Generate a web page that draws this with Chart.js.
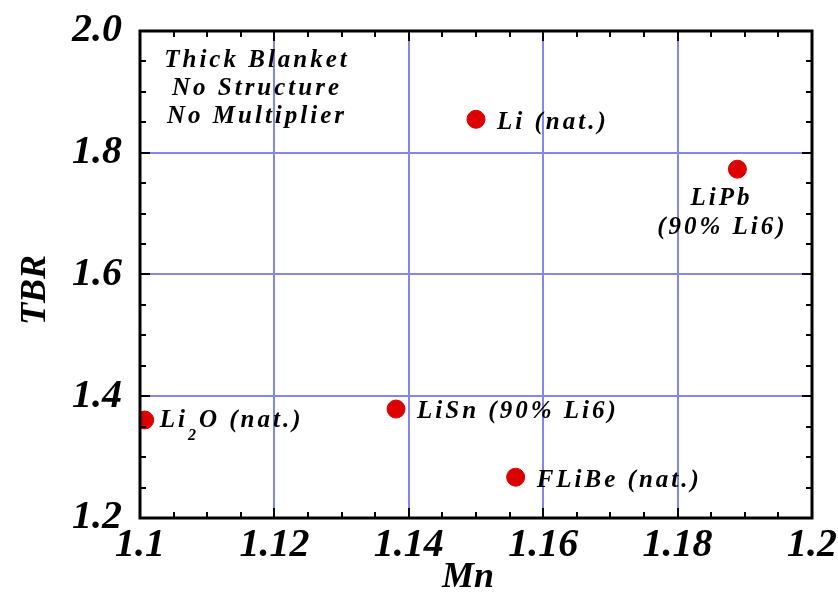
<!DOCTYPE html>
<html>
<head>
<meta charset="utf-8">
<script src="https://cdn.jsdelivr.net/npm/chart.js@4"></script>
<style>
  html, body { margin: 0; padding: 0; background: #fff; }
  #wrap { width: 838px; height: 598px; }
</style>
</head>
<body>
<div id="wrap"><canvas id="chart" width="838" height="598"></canvas></div>
<script>
// data
const materials = ["Li2O (nat.)", "LiSn (90% Li6)", "FLiBe (nat.)", "Li (nat.)", "LiPb (90% Li6)"];
const mnValues = [1.1007, 1.1381, 1.1559, 1.1500, 1.1889];
const tbrValues = [1.361, 1.379, 1.267, 1.855, 1.773];
const xTickLabels = ["1.1", "1.12", "1.14", "1.16", "1.18", "1.2"];
const yTickLabels = ["1.2", "1.4", "1.6", "1.8", "2.0"];
const noteLines = ["Thick Blanket", "No Structure", "No Multiplier"];

const serif = "'Liberation Serif', 'DejaVu Serif', serif";
const gridBlue = "#8585ee";

var points = mnValues.map(function (x, i) {
  return { x: x, y: tbrValues[i] };
});

// frame, inward ticks, axis titles, note text and point labels
const decorations = {
  id: "decorations",
  afterDatasetsDraw: function (chart) {
    var ctx = chart.ctx;
    var a = chart.chartArea;
    var xs = chart.scales.x;
    var ys = chart.scales.y;
    ctx.save();
    ctx.strokeStyle = "#000";
    ctx.lineWidth = 2;
    ctx.beginPath();
    for (var v = 1.1; v <= 1.2001; v += 0.005) {
      var px = Math.round(xs.getPixelForValue(v));
      var major = Math.abs(Math.round(v * 50) - v * 50) < 1e-6;
      var len = major ? 10 : 6;
      ctx.moveTo(px, a.bottom); ctx.lineTo(px, a.bottom - len);
      ctx.moveTo(px, a.top); ctx.lineTo(px, a.top + len);
    }
    for (var w = 1.2; w <= 2.0001; w += 0.05) {
      var py = Math.round(ys.getPixelForValue(w));
      var majorY = Math.abs(Math.round(w * 5) - w * 5) < 1e-6;
      var lenY = majorY ? 10 : 6;
      ctx.moveTo(a.left, py); ctx.lineTo(a.left + lenY, py);
      ctx.moveTo(a.right, py); ctx.lineTo(a.right - lenY, py);
    }
    ctx.stroke();
    ctx.lineWidth = 3;
    ctx.strokeRect(a.left, a.top, a.right - a.left, a.bottom - a.top);

    ctx.fillStyle = "#000";
    ctx.textAlign = "center";
    ctx.textBaseline = "middle";

    // axis titles
    ctx.font = "bold italic 36px " + serif;
    ctx.fillText("Mn", 468, 578);
    ctx.save();
    ctx.translate(36, 290);
    ctx.rotate(-Math.PI / 2);
    ctx.fillText("TBR", 0, 0);
    ctx.restore();

    ctx.font = "bold italic 25px " + serif;
    ctx.letterSpacing = "3px";
    noteLines.forEach(function (line, i) {
      ctx.fillText(line, 257, 61 + i * 28);
    });

    var meta = chart.getDatasetMeta(0);
    meta.data.forEach(function (pt, i) {
      var name = materials[i];
      var x = pt.x, y = pt.y;
      if (name.indexOf("LiPb") === 0) {
        ctx.textAlign = "center";
        ctx.fillText("LiPb", x - 16, y + 29);
        ctx.fillText("(90% Li6)", x - 15, y + 58);
      } else if (name.indexOf("Li2O") === 0) {
        ctx.textAlign = "left";
        var sx = x + 15;
        ctx.fillText("Li", sx, y + 1);
        sx += ctx.measureText("Li").width;
        ctx.font = "bold italic 16px " + serif;
        ctx.fillText("2", sx, y + 16);
        sx += ctx.measureText("2").width;
        ctx.font = "bold italic 25px " + serif;
        ctx.fillText("O (nat.)", sx, y + 1);
      } else {
        ctx.textAlign = "left";
        ctx.fillText(name, x + 21, y + 3);
      }
    });
    ctx.restore();
  }
};

new Chart(document.getElementById("chart"), {
  type: "scatter",
  data: {
    datasets: [{
      label: "TBR",
      data: points,
      backgroundColor: "#dd0000",
      borderColor: "#dd0000",
      pointRadius: 9,
      pointHoverRadius: 9
    }]
  },
  options: {
    responsive: false,
    animation: false,
    events: [],
    layout: { padding: { top: 31, right: 26, left: 0, bottom: 0 } },
    plugins: { legend: { display: false }, tooltip: { enabled: false } },
    scales: {
      x: {
        type: "linear",
        min: 1.1,
        max: 1.2,
        afterFit: function (axis) {
          axis.height = 80;
          axis.paddingLeft = 0;
          axis.paddingRight = 0;
        },
        afterBuildTicks: function (axis) {
          axis.ticks = xTickLabels.map(function (t) { return { value: parseFloat(t) }; });
        },
        ticks: {
          color: "#000",
          padding: 4,
          maxRotation: 0,
          autoSkip: false,
          font: { family: serif, size: 40, style: "italic", weight: "bold" },
          callback: function (v, i) { return xTickLabels[i]; }
        },
        grid: { color: gridBlue, lineWidth: 2, drawTicks: false },
        border: { display: false }
      },
      y: {
        type: "linear",
        min: 1.2,
        max: 2.0,
        afterFit: function (axis) {
          axis.width = 140;
          axis.paddingTop = 0;
          axis.paddingBottom = 0;
        },
        afterBuildTicks: function (axis) {
          axis.ticks = yTickLabels.map(function (t) { return { value: parseFloat(t) }; });
        },
        ticks: {
          color: "#000",
          padding: 18,
          autoSkip: false,
          font: { family: serif, size: 40, style: "italic", weight: "bold" },
          callback: function (v, i) { return yTickLabels[i]; }
        },
        grid: { color: gridBlue, lineWidth: 2, drawTicks: false },
        border: { display: false }
      }
    }
  },
  plugins: [decorations]
});
</script>
</body>
</html>
